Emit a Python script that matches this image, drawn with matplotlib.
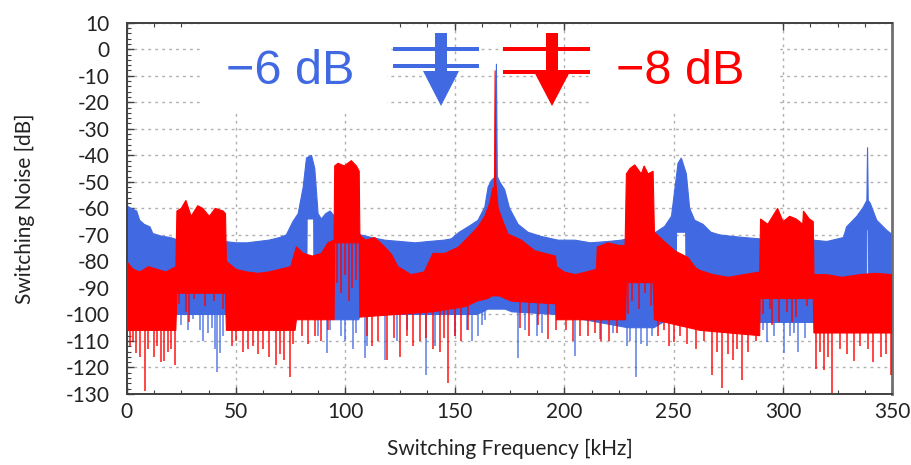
import numpy as np
import matplotlib
matplotlib.use("Agg")
import matplotlib.pyplot as plt
from matplotlib.patches import Rectangle, Polygon
from matplotlib.ticker import MultipleLocator

plt.rcParams['axes.unicode_minus'] = False

# ---------------- data ----------------
# Blue (-6 dB) spectrum: upper and lower edge of the dense noise band
blue_top_f = [0, 2, 4.6, 6, 8, 10.7, 12, 16, 20, 22.6, 26, 30, 35, 40, 45, 50, 55, 60, 65, 70,
              73, 76, 78.4, 80.7, 82.2, 84.5, 86, 87.5, 89, 91, 93, 95, 100, 104, 107, 112, 118,
              125, 132, 138, 145, 148.4, 152, 156, 160.6, 163.7, 165.2, 166.7, 168.6, 169.0, 169.4,
              170.5, 172.8, 175, 178.9, 183.4, 189.5, 197.2, 205, 212, 220, 226, 232, 237, 241.3,
              245.9, 249, 250.5, 252, 253.5, 255.8, 257.3, 259.6, 263.4, 267, 271, 276, 282, 289.5,
              296, 303, 310, 314, 320, 327.6, 329, 333.7, 336.7, 338.3, 338.6, 338.9, 339.8, 342.8,
              347.4, 350]
blue_top_db = [-59, -60, -61, -64.5, -66, -67, -69.5, -70.5, -71, -71.7, -72, -72, -71.5, -72, -72.5,
               -73, -73, -72.5, -72, -71, -70, -65, -62, -52, -41, -40, -45, -62, -64, -62, -61, -63,
               -66, -68, -70, -71, -72, -72.5, -73, -72.5, -72, -71.5, -69, -67, -64.5, -59.5, -52,
               -49.5, -48, -5.5, -48, -50, -53, -60, -66, -69, -70.6, -72, -72, -73, -72.5, -72, -71,
               -70, -69.3, -66.8, -63, -53, -43, -41, -47, -60, -64.5, -66, -69, -70, -70.5, -71,
               -71.5, -72, -72, -72, -72, -72.5, -71, -67, -63, -59.5, -57, -37, -57, -58, -64.5,
               -68.3, -70]
blue_low_f = [0, 45, 80, 82.3, 82.5, 85.5, 85.7, 95, 106, 107, 160, 163, 165, 167, 170.5, 173, 176,
              196, 229, 241, 251, 251.3, 255.5, 255.8, 262, 289, 314, 338.1, 338.3, 339.0, 339.2, 350]
blue_low_db = [-100, -100, -100, -100, -64, -64, -100, -102, -102, -100, -100, -99, -98, -98, -98,
               -98, -99, -100, -105, -105, -100, -69, -69, -100, -100, -103, -103, -100, -68, -68,
               -100, -100]
# Deep downward spikes of the blue spectrum: (frequency kHz, level dB)
blue_spike_f = [25, 28, 30.5, 33.6, 35, 37, 39, 40.4, 41.2, 42.7, 44, 47, 52, 87.6, 91.4, 93, 98,
                100, 103.6, 105, 108.8, 109.7, 118, 123.4, 128, 137, 141, 150, 155.5, 158, 160.7,
                162.5, 164, 179, 182, 187.4, 190, 204.9, 216.3, 222.4, 228.5, 230, 232.8, 235,
                237.7, 240, 291, 292.5, 296, 300.2, 303, 305, 307, 310]
blue_spike_db = [-104, -106, -101.6, -106, -110, -107, -105, -113, -121.6, -114.6, -108, -104, -106,
                 -108, -114.6, -106, -108, -110, -113, -107, -116.6, -112, -117, -110, -106, -123,
                 -112, -108, -106, -110, -108, -104, -102, -116.5, -106, -108, -107, -115.6, -109.4,
                 -107, -112, -110, -123.5, -111, -112, -108, -106, -110.5, -108, -114.6, -108, -107,
                 -114, -109]

# Red (-8 dB) spectrum
red_top_f = [0, 3, 6, 10, 14, 18, 22.5, 23, 25, 27.1, 29.5, 32.5, 34.8, 37.8, 40.5, 44.1, 45.2,
             45.6, 50, 55, 60, 65, 70, 75, 77.6, 80.7, 85, 89, 92, 94.8, 95.1, 96.6, 99.5, 102.7,
             105, 106.3, 106.6, 109, 113.4, 118, 121, 124, 130, 136, 140, 145.4, 151.5, 156,
             160.6, 163.7, 166, 167.5, 168.1, 168.4, 168.7, 169.8, 172, 174.3, 180.4, 186.5,
             192.6, 196, 196.5, 200, 205, 210, 214.7, 215.1, 220, 225, 227.8, 228.4, 230, 232.2,
             235.2, 236.5, 238.3, 240.6, 241.2, 245, 250.5, 256.6, 260, 262, 268, 275, 282, 289.3,
             289.7, 293, 297.5, 300, 303, 306, 309, 309.3, 312, 313.8, 314.1, 320, 327, 335, 342, 350]
red_top_db = [-80, -83, -84, -82, -83, -84, -82, -61, -60, -57, -63, -59, -60, -63, -60, -61, -62,
              -80, -83, -84, -84.5, -84, -83, -82, -74.5, -77, -78, -77, -73, -72, -44, -43, -44,
              -42, -44, -46, -70, -72, -71, -74.6, -77.3, -82, -85, -84, -77, -77, -74.7, -71, -67,
              -63, -58, -52, -55, -8, -50, -60, -65, -69.7, -72, -76, -77.3, -78, -82, -84, -85,
              -84, -83, -74.6, -73, -74, -74, -47, -45, -43.6, -47, -44, -47, -46, -69, -72, -76,
              -78.6, -82.4, -83.4, -85, -86, -85, -84, -64, -66, -60, -65, -63, -64, -66, -61, -64,
              -65, -85, -85, -86, -85, -84.5, -85]
red_low_f = [0, 22.5, 23, 45.2, 45.6, 77, 77.6, 94.8, 95.1, 106.3, 106.6, 140, 155, 160, 165, 167,
             170.5, 173, 176, 196, 196.5, 228, 228.4, 240.6, 241.2, 262, 289.3, 289.5, 313.8, 314.1,
             350]
red_low_db = [-106, -106, -92, -92, -106, -106, -102, -102, -73, -73, -101, -99, -97, -95, -94, -93,
              -93, -94, -95, -96, -102, -102, -88, -88, -102, -106, -108, -94, -94, -107, -107]
# Deep downward spikes of the red spectrum
red_spike_f = [1.5, 3, 4.1, 6, 8.2, 10, 12.4, 14, 15.5, 17, 19, 20.5, 22.3, 24, 27, 28.4, 31, 36,
               40, 44, 48, 50, 53, 55.5, 57.9, 60, 62.4, 65, 68.5, 70, 72, 74.6, 76, 80, 83, 86,
               89, 92, 96, 98, 100, 101.5, 103, 105, 110, 112, 115, 118.8, 122, 125, 128, 131, 134,
               137, 140, 143, 145, 147, 150, 153, 156, 179.7, 184, 188, 192.4, 196, 200.8, 204,
               207, 210.7, 214, 217, 220.6, 224, 229, 231, 234, 237, 239.5, 243, 245.7, 248, 250.2,
               253, 256, 260.1, 264, 267.7, 270, 272, 275, 276.9, 279, 281.4, 284, 287.5, 291, 294,
               295.1, 298, 302, 304.3, 306, 311, 315, 317, 318.8, 320.5, 322.3, 326, 329, 332.6,
               335, 338.7, 341, 344.8, 347, 349.4]
red_spike_db = [-112, -110, -114.6, -116, -129, -113, -116, -112, -118, -117.6, -114, -113, -119,
                -96, -99, -103, -94, -97, -95, -98, -112, -110, -114, -113, -112, -115, -113, -116,
                -119, -115, -117, -123.6, -111, -108, -111, -108, -110, -106, -88, -92, -85, -95,
                -90, -87, -108, -112, -110, -117, -109, -116, -108, -112, -110, -109, -113, -114,
                -109, -126, -108, -110, -106, -105, -108, -104, -109.4, -106, -106, -110, -108,
                -108, -107, -110, -110, -107, -100, -95, -98, -92, -97, -108, -106, -112, -110.5,
                -108, -111, -113, -110, -122.8, -114, -127.8, -115, -117, -113, -124.8, -114, -110,
                -100, -98, -104, -103, -99, -103, -101, -97, -120.6, -114, -121, -116, -129.6,
                -113, -115, -117.6, -112, -113, -118, -116, -115, -122.8]

x_ticks = [0, 50, 100, 150, 200, 250, 300, 350]
y_ticks = [10, 0, -10, -20, -30, -40, -50, -60, -70, -80, -90, -100, -110, -120, -130]

BLUE = "#4169E1"
RED = "#FF0000"

# ---------------- figure ----------------
W, H = 912, 465
fig = plt.figure(figsize=(W / 100, H / 100), dpi=100)
L, R, T, B = 126.6, 892.5, 22.7, 394.0
ax = fig.add_axes([L / W, 1 - B / H, (R - L) / W, (B - T) / H])
ax.set_xlim(0, 350)
ax.set_ylim(-130, 10)
ax.set_axisbelow(True)


def ax_frac(px, py):
    return (px - L) / (R - L), (B - py) / (B - T)


def fig_frac(px, py):
    return px / W, 1 - py / H


# white boxes behind the labels (hide the grid)
for x0, x1 in [(203, 387), (592, 777)]:
    a0 = ax_frac(x0, 112)
    a1 = ax_frac(x1, T)
    ax.add_patch(Rectangle(a0, a1[0] - a0[0], a1[1] - a0[1], transform=ax.transAxes,
                           facecolor="white", edgecolor="none", zorder=0.8))

# blue spectrum: band polygon = upper edge forward + lower edge backward
ax.fill(blue_top_f + blue_low_f[::-1], blue_top_db + blue_low_db[::-1],
        facecolor=BLUE, edgecolor=BLUE, lw=0.8, zorder=2)
ax.vlines(blue_spike_f, blue_spike_db, np.interp(blue_spike_f, blue_low_f, blue_low_db) + 2,
          color=BLUE, lw=1.2, alpha=0.8, zorder=2)

# red spectrum
ax.fill(red_top_f + red_low_f[::-1], red_top_db + red_low_db[::-1],
        facecolor=RED, edgecolor=RED, lw=0.8, zorder=3)
ax.vlines(red_spike_f, red_spike_db, np.interp(red_spike_f, red_low_f, red_low_db) + 2,
          color=RED, lw=1.2, alpha=0.85, zorder=3)

# axes styling
ax.set_xticks(x_ticks)
ax.set_yticks(y_ticks)
ax.set_yticklabels([str(v) for v in y_ticks])
ax.xaxis.set_minor_locator(MultipleLocator(12.5))
ax.yaxis.set_minor_locator(MultipleLocator(2))
ax.grid(True, which="major", color="#b0b0b0", linestyle=(0, (2, 3)), linewidth=1.0)
ax.tick_params(which="both", direction="in", top=True, right=False, colors="#404040",
               labelcolor="#222222", labelsize=15)
ax.tick_params(which="major", length=5, width=1)
ax.tick_params(which="minor", length=3, width=0.8)
ax.tick_params(axis="y", pad=12)
ax.tick_params(axis="x", pad=6)
for lab in ax.get_xticklabels() + ax.get_yticklabels():
    lab.set_family("Lato")
for side in ["left", "bottom", "top"]:
    ax.spines[side].set_color("#404040")
    ax.spines[side].set_linewidth(1.4)
ax.spines["right"].set_color("#707070")
ax.spines["right"].set_linewidth(2)

ax.set_xlabel("Switching Frequency [kHz]", family="Lato", fontsize=15, color="#222222",
              labelpad=12)
ax.set_ylabel("Switching Noise [dB]", family="Lato", fontsize=15, color="#222222", labelpad=22)

# annotation texts
fig.text(*fig_frac(290, 71), "\u22126 dB", color=BLUE, fontsize=35, family="Liberation Sans",
         ha="center", va="center")
fig.text(*fig_frac(680, 71), "\u22128 dB", color=RED, fontsize=35, family="Liberation Sans",
         ha="center", va="center")


# symbols (two bars + downward arrow)
def symbol(color, x0, x1, ybars, sx0, sx1, stop, abase, ax0, ax1, atip):
    for yb in ybars:
        fig.add_artist(Polygon([fig_frac(x0, yb - 2), fig_frac(x1, yb - 2), fig_frac(x1, yb + 2),
                                fig_frac(x0, yb + 2)], closed=True, facecolor=color,
                               edgecolor="none", zorder=6))
    fig.add_artist(Polygon([fig_frac(sx0, stop), fig_frac(sx1, stop), fig_frac(sx1, abase),
                            fig_frac(sx0, abase)], closed=True, facecolor=color,
                           edgecolor="none", zorder=6))
    fig.add_artist(Polygon([fig_frac(ax0, abase), fig_frac(ax1, abase),
                            fig_frac((ax0 + ax1) / 2, atip)], closed=True, facecolor=color,
                           edgecolor="none", zorder=6))


symbol(BLUE, 392.7, 479, [49.3, 66], 435, 447, 32.7, 71, 423, 459, 106)
symbol(RED, 503, 590, [49.3, 71.7], 546, 558, 32.7, 71.7, 534, 570, 106)

fig.savefig("out.png", dpi=100)
